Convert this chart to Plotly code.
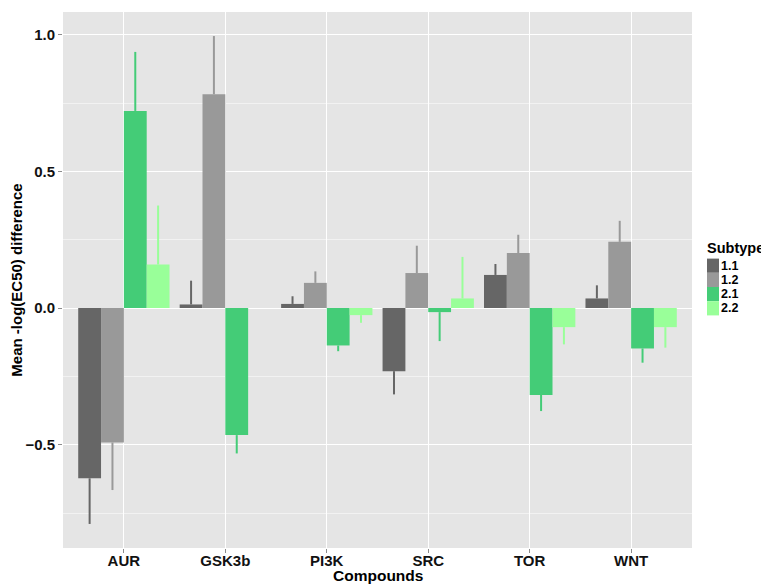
import plotly.graph_objects as go

compounds = ["AUR", "GSK3b", "PI3K", "SRC", "TOR", "WNT"]
subtypes = ["1.1", "1.2", "2.1", "2.2"]

mean_11 = [-0.623, 0.013, 0.015, -0.231, 0.121, 0.035]
mean_12 = [-0.492, 0.782, 0.092, 0.128, 0.201, 0.242]
mean_21 = [0.721, -0.465, -0.137, -0.015, -0.318, -0.148]
mean_22 = [0.159, None, -0.026, 0.035, -0.070, -0.070]

se_11 = [0.167, 0.087, 0.028, 0.085, 0.040, 0.048]
se_12 = [0.174, 0.213, 0.042, 0.100, 0.067, 0.077]
se_21 = [0.216, 0.067, 0.021, 0.106, 0.059, 0.052]
se_22 = [0.216, None, 0.028, 0.152, 0.063, 0.075]

colors = ["#666666", "#999999", "#44CC77", "#99FF99"]

means = [mean_11, mean_12, mean_21, mean_22]
ses = [se_11, se_12, se_21, se_22]

FONT = "Liberation Sans, Arial, sans-serif"

fig = go.Figure()
for name, m, s, c in zip(subtypes, means, ses, colors):
    up = [e if (v is not None and e is not None and v >= 0) else 0 for v, e in zip(m, s)]
    down = [e if (v is not None and e is not None and v < 0) else 0 for v, e in zip(m, s)]
    fig.add_trace(go.Bar(
        x=compounds, y=m, name=name,
        marker=dict(color=c, line=dict(width=0)),
        error_y=dict(type="data", symmetric=False, array=up, arrayminus=down,
                     width=0, thickness=2, color=c),
        showlegend=False,
    ))

# page offset (default body margin) and plot area in page pixels
OFF = 8
W, H = 769 - OFF, 584 - OFF
L, R, T, B = 63, 692, 12, 548
pw, ph = R - L, B - T


def px_x(x):
    return (x - L) / pw


def px_y(y):
    return (B - y) / ph


shapes = []
annotations = []
annotations.append(dict(text="<b>Subtype</b>", x=px_x(706), y=px_y(248), xref="paper", yref="paper",
                        xanchor="left", yanchor="middle", showarrow=False, borderpad=0,
                        font=dict(family=FONT, size=14.5, color="#000000")))
row_h = 14.2
top0 = 258.6
for i, (name, c) in enumerate(zip(subtypes, colors)):
    top = top0 + row_h * i
    shapes.append(dict(type="rect", xref="paper", yref="paper",
                       x0=px_x(707), x1=px_x(719), y0=px_y(top + row_h), y1=px_y(top),
                       fillcolor=c, line=dict(width=0)))
    annotations.append(dict(text="<b>%s</b>" % name, x=px_x(720), y=px_y(top + row_h / 2),
                            xref="paper", yref="paper", xanchor="left", yanchor="middle",
                            showarrow=False, borderpad=0,
                            font=dict(family=FONT, size=12.5, color="#000000")))

annotations.append(dict(text="<b>Compounds</b>", x=0.5, y=px_y(575), xref="paper", yref="paper",
                        xanchor="center", yanchor="middle", showarrow=False, borderpad=0,
                        font=dict(family=FONT, size=15.5, color="#000000")))

fig.update_layout(
    width=W, height=H,
    margin=dict(l=L - OFF, r=W - (R - OFF), t=T - OFF, b=H - (B - OFF), autoexpand=False),
    plot_bgcolor="#E5E5E5", paper_bgcolor="#FFFFFF",
    barmode="group", bargap=0.1, bargroupgap=0,
    font=dict(family=FONT, size=15, color="#000000"),
    shapes=shapes, annotations=annotations,
)
fig.update_xaxes(
    range=[-0.6, 5.6], showgrid=True, gridcolor="#FFFFFF", gridwidth=1.2,
    ticks="outside", ticklen=4, tickcolor="#8C8C8C", tickwidth=1,
    ticklabelstandoff=-5,
    tickfont=dict(family=FONT, size=15, color="#111111", weight="bold"),
    showline=False, zeroline=False, automargin=False,
)
fig.update_yaxes(
    range=[-0.878, 1.083], tickvals=[-0.5, 0.0, 0.5, 1.0], tickformat=".1f",
    showgrid=True, gridcolor="#FFFFFF", gridwidth=1.2,
    minor=dict(tickvals=[-0.75, -0.25, 0.25, 0.75], showgrid=True, gridcolor="#F2F2F2", gridwidth=0.6, ticks=""),
    ticks="outside", ticklen=4, tickcolor="#8C8C8C", tickwidth=1,
    tickfont=dict(family=FONT, size=15, color="#111111", weight="bold"),
    title=dict(text="Mean -log(EC50) difference", standoff=3,
               font=dict(family=FONT, size=15, color="#000000", weight="bold")),
    showline=False, zeroline=False, automargin=False,
)

fig.write_html("out.html")
